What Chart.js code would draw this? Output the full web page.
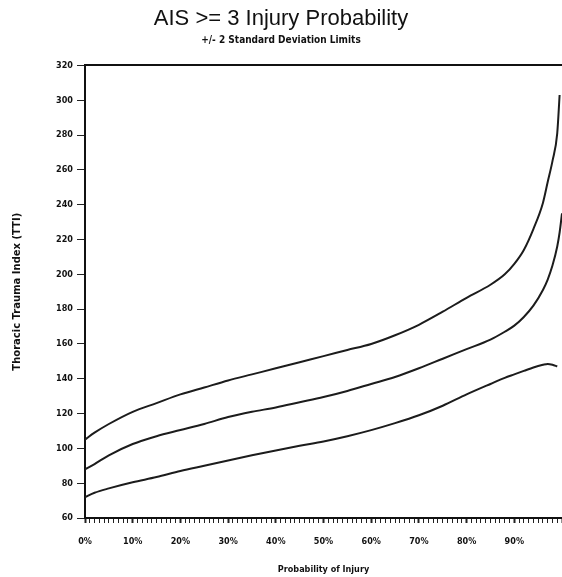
<!DOCTYPE html>
<html>
<head>
<meta charset="utf-8">
<script src="https://cdn.jsdelivr.net/npm/chart.js@4.4.1/dist/chart.umd.min.js"></script>
<style>
html,body{margin:0;padding:0;background:#fff;}
#wrap{width:562px;height:577px;position:relative;}
</style>
</head>
<body>
<div id="wrap"><canvas id="c" width="562" height="577"></canvas></div>
<script>
const probability = [0, 2, 5, 10, 15, 20, 25, 30, 35, 40, 45, 50, 55, 60, 65, 70, 75, 80, 85, 88, 90, 92, 94, 96, 97, 98, 99, 99.5, 100];
const upperLimit  = [105, 109, 114, 121, 126, 131, 135, 139, 142.5, 146, 149.5, 153, 156.5, 160, 165, 171, 178.5, 186.5, 194, 200, 206, 214, 226, 241, 253, 265, 281, 303, null];
const meanTTI     = [88, 91, 96, 102.5, 107, 110.5, 114, 118, 121, 123.5, 126.5, 129.5, 133, 137, 141, 146, 151.5, 157, 162.5, 167, 170.5, 175.5, 182, 191, 197, 205, 216, 224, 235];
const lowerLimit  = [72, 74.5, 77, 80.5, 83.5, 87, 90, 93, 96, 98.8, 101.5, 104, 107, 110.5, 114.5, 119, 124.5, 131, 137, 140.5, 142.5, 144.5, 146.5, 148, 148.5, 148, 147, null, null];
const yTicks = [60, 80, 100, 120, 140, 160, 180, 200, 220, 240, 260, 280, 300, 320];
const xTickLabels = ['0%', '10%', '20%', '30%', '40%', '50%', '60%', '70%', '80%', '90%'];

const toPts = arr => probability.map((p, i) => ({x: p, y: arr[i]})).filter(d => d.y !== null);
const lineStyle = {borderColor: '#1c1c1c', borderWidth: 2, pointRadius: 0, pointHoverRadius: 0, pointHitRadius: 0, fill: false, cubicInterpolationMode: 'monotone'};
const tickFont = {family: "'DejaVu Sans Condensed', 'DejaVu Sans', sans-serif", weight: 'bold', size: 9};
const noPad = s => { s.paddingLeft = 0; s.paddingRight = 0; };

new Chart(document.getElementById('c'), {
  type: 'line',
  data: {
    datasets: [
      Object.assign({label: '+2 SD', data: toPts(upperLimit)}, lineStyle),
      Object.assign({label: 'Mean', data: toPts(meanTTI)}, lineStyle),
      Object.assign({label: '-2 SD', data: toPts(lowerLimit)}, lineStyle)
    ]
  },
  options: {
    responsive: false,
    animation: false,
    layout: {padding: 0, autoPadding: false},
    plugins: {
      legend: {display: false},
      tooltip: {enabled: false},
      title: {
        display: true,
        text: 'AIS >= 3 Injury Probability',
        color: '#111',
        font: {family: "'Liberation Sans', sans-serif", size: 22, weight: 'normal'},
        padding: {top: 6, bottom: 1}
      },
      subtitle: {
        display: true,
        text: '+/- 2 Standard Deviation Limits',
        color: '#111',
        font: {family: tickFont.family, weight: 'bold', size: 10},
        padding: {top: 1, bottom: 19}
      }
    },
    scales: {
      x: {
        type: 'linear',
        position: 'bottom',
        min: 0,
        max: 100,
        afterFit: s => { s.height = 59; noPad(s); },
        border: {display: true, color: '#111', width: 2},
        grid: {
          drawOnChartArea: false,
          tickLength: 5,
          tickColor: '#222',
          tickWidth: ctx => (ctx.tick && ctx.tick.value % 10 === 0) ? 2 : 1
        },
        ticks: {
          stepSize: 1,
          autoSkip: false,
          maxRotation: 0,
          padding: 13,
          color: '#111',
          font: tickFont,
          callback: v => (v % 10 === 0 && v / 10 < xTickLabels.length) ? xTickLabels[v / 10] : ''
        },
        title: {
          display: true,
          text: 'Probability of Injury',
          color: '#111',
          font: {family: tickFont.family, weight: 'bold', size: 9},
          padding: {top: 0, bottom: 2}
        }
      },
      x2: {
        type: 'linear',
        position: 'top',
        min: 0,
        max: 100,
        afterFit: s => { s.height = 0; noPad(s); },
        border: {display: true, color: '#111', width: 2},
        grid: {display: false},
        ticks: {display: false}
      },
      y: {
        min: 60,
        max: 320,
        afterFit: s => { s.width = 85; },
        afterBuildTicks: s => { s.ticks = yTicks.map(v => ({value: v})); },
        border: {display: true, color: '#111', width: 2},
        grid: {drawOnChartArea: false, tickLength: 8, tickColor: '#222', tickWidth: 1},
        ticks: {padding: 4, color: '#111', font: tickFont},
        title: {
          display: true,
          text: 'Thoracic Trauma Index (TTI)',
          color: '#111',
          font: {family: "'DejaVu Sans', sans-serif", weight: 'bold', size: 10},
          padding: {top: 11, bottom: 0}
        }
      }
    }
  }
});
</script>
</body>
</html>
